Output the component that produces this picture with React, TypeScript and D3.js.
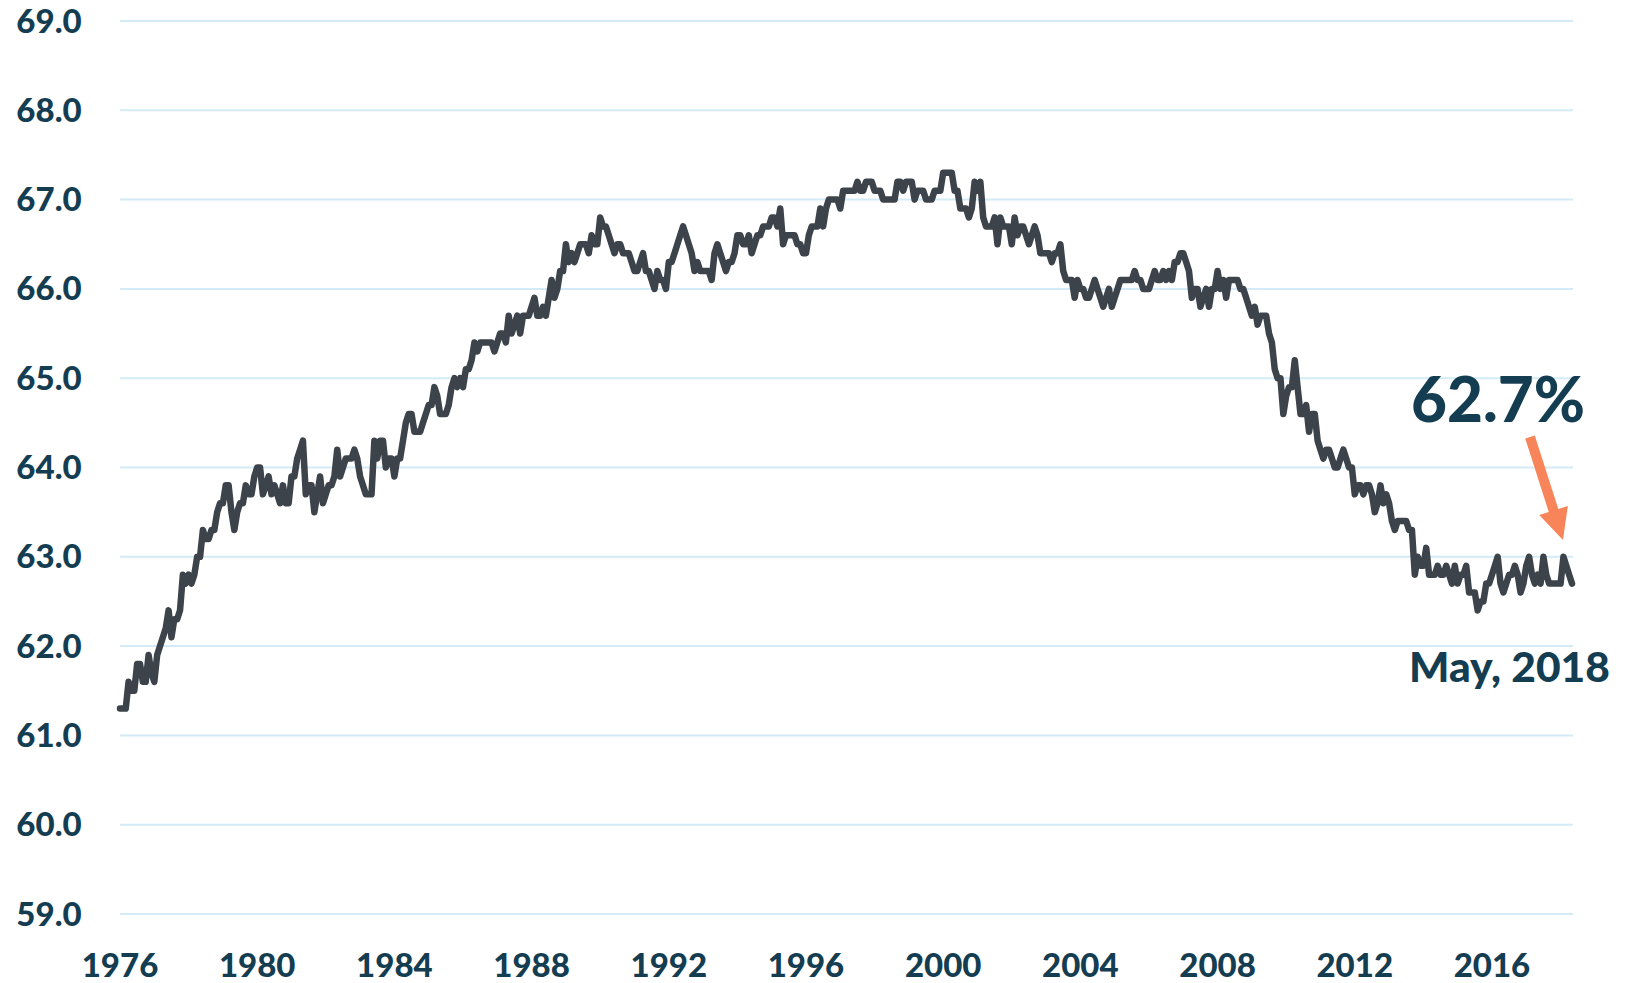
import React from 'react';
import * as d3 from 'd3';

// Civilian labor force participation rate, monthly, Jan 1976 - May 2018 (%)
const lfpr1970s = [
  61.3, 61.3, 61.3, 61.6, 61.5, 61.5, 61.8, 61.8, 61.6, 61.6, 61.9, 61.7,
  61.6, 61.9, 62.0, 62.1, 62.2, 62.4, 62.1, 62.3, 62.3, 62.4, 62.8, 62.7,
  62.8, 62.7, 62.8, 63.0, 63.0, 63.3, 63.2, 63.2, 63.3, 63.3, 63.5, 63.6,
  63.6, 63.8, 63.8, 63.5, 63.3, 63.5, 63.6, 63.6, 63.8, 63.7, 63.7, 63.9,
];
const lfpr1980s = [
  64.0, 64.0, 63.7, 63.8, 63.9, 63.7, 63.8, 63.7, 63.6, 63.8, 63.6, 63.6,
  63.9, 63.9, 64.1, 64.2, 64.3, 63.7, 63.8, 63.8, 63.5, 63.7, 63.9, 63.6,
  63.7, 63.8, 63.8, 63.9, 64.2, 63.9, 64.0, 64.1, 64.1, 64.1, 64.2, 64.1,
  63.9, 63.8, 63.7, 63.7, 63.7, 64.3, 64.1, 64.3, 64.3, 64.0, 64.1, 64.1,
  63.9, 64.1, 64.1, 64.3, 64.5, 64.6, 64.6, 64.4, 64.4, 64.4, 64.5, 64.6,
  64.7, 64.7, 64.9, 64.8, 64.6, 64.6, 64.6, 64.7, 64.9, 65.0, 64.9, 65.0,
  64.9, 65.1, 65.1, 65.2, 65.4, 65.3, 65.4, 65.4, 65.4, 65.4, 65.4, 65.3,
  65.4, 65.5, 65.5, 65.4, 65.7, 65.5, 65.6, 65.7, 65.5, 65.7, 65.7, 65.7,
  65.8, 65.9, 65.7, 65.7, 65.8, 65.7, 65.9, 66.1, 65.9, 66.0, 66.2, 66.2,
  66.5, 66.3, 66.4, 66.3, 66.4, 66.5, 66.5, 66.5, 66.4, 66.6, 66.5, 66.5,
];
const lfpr1990s = [
  66.8, 66.7, 66.7, 66.6, 66.5, 66.4, 66.5, 66.5, 66.4, 66.4, 66.4, 66.3,
  66.2, 66.2, 66.3, 66.4, 66.2, 66.2, 66.1, 66.0, 66.2, 66.1, 66.1, 66.0,
  66.3, 66.3, 66.4, 66.5, 66.6, 66.7, 66.6, 66.5, 66.4, 66.2, 66.3, 66.2,
  66.2, 66.2, 66.2, 66.1, 66.4, 66.5, 66.4, 66.3, 66.2, 66.3, 66.3, 66.4,
  66.6, 66.6, 66.5, 66.5, 66.6, 66.4, 66.5, 66.6, 66.6, 66.7, 66.7, 66.7,
  66.8, 66.8, 66.7, 66.9, 66.5, 66.6, 66.6, 66.6, 66.6, 66.5, 66.5, 66.4,
  66.4, 66.6, 66.7, 66.7, 66.7, 66.9, 66.7, 66.9, 67.0, 67.0, 67.0, 67.0,
  66.9, 67.1, 67.1, 67.1, 67.1, 67.1, 67.2, 67.1, 67.1, 67.2, 67.2, 67.2,
  67.1, 67.1, 67.1, 67.0, 67.0, 67.0, 67.0, 67.0, 67.2, 67.2, 67.1, 67.2,
  67.2, 67.2, 67.0, 67.1, 67.1, 67.1, 67.0, 67.0, 67.0, 67.1, 67.1, 67.1,
];
const lfpr2000s = [
  67.3, 67.3, 67.3, 67.3, 67.1, 67.1, 66.9, 66.9, 66.9, 66.8, 66.9, 67.2,
  67.1, 67.2, 66.8, 66.7, 66.7, 66.7, 66.8, 66.5, 66.8, 66.7, 66.7, 66.7,
  66.5, 66.8, 66.6, 66.7, 66.7, 66.6, 66.5, 66.6, 66.7, 66.6, 66.4, 66.4,
  66.4, 66.4, 66.3, 66.4, 66.4, 66.5, 66.2, 66.1, 66.1, 66.1, 65.9, 66.1,
  66.0, 66.0, 65.9, 65.9, 66.0, 66.1, 66.0, 65.9, 65.8, 65.9, 66.0, 65.8,
  65.9, 66.0, 66.1, 66.1, 66.1, 66.1, 66.1, 66.2, 66.1, 66.1, 66.0, 66.0,
  66.0, 66.1, 66.2, 66.1, 66.1, 66.2, 66.1, 66.2, 66.1, 66.3, 66.3, 66.4,
  66.4, 66.3, 66.2, 65.9, 66.0, 66.0, 65.8, 65.9, 66.0, 65.8, 66.0, 66.0,
  66.2, 66.0, 66.1, 65.9, 66.1, 66.1, 66.1, 66.1, 66.0, 66.0, 65.9, 65.8,
  65.7, 65.8, 65.6, 65.7, 65.7, 65.7, 65.5, 65.4, 65.1, 65.0, 65.0, 64.6,
];
const lfpr2010s = [
  64.8, 64.9, 64.9, 65.2, 64.9, 64.6, 64.6, 64.7, 64.4, 64.6, 64.6, 64.3,
  64.2, 64.1, 64.2, 64.2, 64.1, 64.0, 64.0, 64.1, 64.2, 64.1, 64.0, 64.0,
  63.7, 63.8, 63.8, 63.7, 63.8, 63.8, 63.7, 63.5, 63.6, 63.8, 63.6, 63.7,
  63.6, 63.4, 63.3, 63.4, 63.4, 63.4, 63.4, 63.3, 63.3, 62.8, 63.0, 62.9,
  62.9, 63.1, 62.8, 62.8, 62.8, 62.9, 62.8, 62.8, 62.9, 62.8, 62.7, 62.9,
  62.7, 62.8, 62.8, 62.9, 62.6, 62.6, 62.6, 62.4, 62.5, 62.5, 62.7, 62.7,
  62.8, 62.9, 63.0, 62.7, 62.6, 62.7, 62.8, 62.8, 62.9, 62.8, 62.6, 62.7,
  62.9, 63.0, 62.8, 62.7, 62.8, 62.7, 63.0, 62.8, 62.7, 62.7, 62.7, 62.7,
  62.7, 63.0, 62.9, 62.8, 62.7,
];

const START_YEAR = 1976;
const series = [...lfpr1970s, ...lfpr1980s, ...lfpr1990s, ...lfpr2000s, ...lfpr2010s];
const yTicks = [59, 60, 61, 62, 63, 64, 65, 66, 67, 68, 69];
const xTickYears = [1976, 1980, 1984, 1988, 1992, 1996, 2000, 2004, 2008, 2012, 2016];
const latestLabel = '62.7%';
const latestDate = 'May, 2018';

const W = 1627;
const H = 983;
const TEXT = '#143d51';
const FONT = "Lato, 'Open Sans', 'DejaVu Sans', sans-serif";

export default function App() {
  const x = d3.scaleLinear().domain([0, series.length - 1]).range([120, 1572]);
  const y = d3.scaleLinear().domain([59, 69]).range([914, 21]);
  const line = d3
    .line<number>()
    .x((_, i) => x(i))
    .y((d) => y(d));

  // arrow geometry
  const tip = [1563, 540];
  const tail = [1530, 437];
  const dx = tip[0] - tail[0];
  const dy = tip[1] - tail[1];
  const len = Math.hypot(dx, dy);
  const ux = dx / len;
  const uy = dy / len;
  const headLen = 31;
  const headHalf = 15;
  const bx = tip[0] - ux * headLen;
  const by = tip[1] - uy * headLen;
  const head = [
    [bx + uy * headHalf, by - ux * headHalf],
    [bx - uy * headHalf, by + ux * headHalf],
    tip,
  ]
    .map((p) => p.join(','))
    .join(' ');

  return (
    <svg
      width={W}
      height={H}
      style={{ position: 'absolute', left: 0, top: 0, background: '#fff' }}
      fontFamily={FONT}
    >
      <g>
        {yTicks.map((t) => (
          <line
            key={t}
            x1={120}
            x2={1573}
            y1={y(t)}
            y2={y(t)}
            stroke="#d3ebf6"
            strokeWidth={2}
          />
        ))}
      </g>
      <g>
        {yTicks.map((t) => (
          <text
            key={t}
            x={49}
            y={y(t) + 11.5}
            textAnchor="middle"
            fontSize={33}
            fontWeight={900}
            fill={TEXT}
          >
            {t.toFixed(1)}
          </text>
        ))}
      </g>
      <g>
        {xTickYears.map((yr) => (
          <text
            key={yr}
            x={x((yr - START_YEAR) * 12)}
            y={977}
            textAnchor="middle"
            fontSize={33}
            fontWeight={900}
            fill={TEXT}
          >
            {yr}
          </text>
        ))}
      </g>
      <path
        d={line(series) || ''}
        fill="none"
        stroke="#3c434a"
        strokeWidth={6.5}
        strokeLinejoin="round"
        strokeLinecap="round"
      />
      <line
        x1={tail[0]}
        y1={tail[1]}
        x2={bx + ux * 2}
        y2={by + uy * 2}
        stroke="#f8845a"
        strokeWidth={10}
      />
      <polygon points={head} fill="#f8845a" />
      <text x={1411} y={422} fontSize={62} fontWeight={900} fill={TEXT}>
        {latestLabel}
      </text>
      <text x={1409} y={682} fontSize={42.5} fontWeight={900} fill={TEXT}>
        {latestDate}
      </text>
    </svg>
  );
}
